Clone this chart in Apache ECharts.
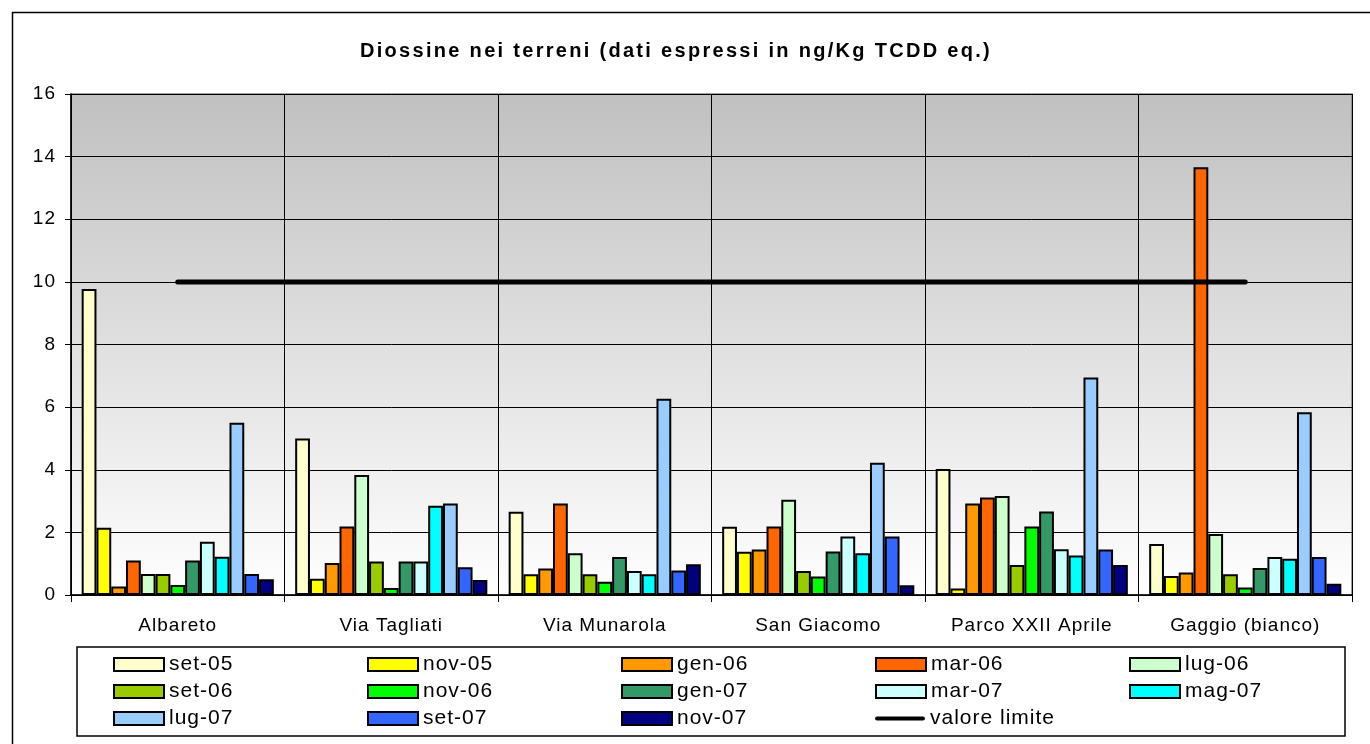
<!DOCTYPE html>
<html>
<head>
<meta charset="utf-8">
<script src="https://cdn.jsdelivr.net/npm/echarts@6/dist/echarts.min.js"></script>
<style>html,body{margin:0;padding:0;background:#fff;}#c{width:1370px;height:744px;}</style>
</head>
<body>
<div id="c"></div>
<script>
var categories = ['Albareto', 'Via Tagliati', 'Via Munarola', 'San Giacomo', 'Parco XXII Aprile', 'Gaggio (bianco)'];
var seriesNames = ['set-05','nov-05','gen-06','mar-06','lug-06','set-06','nov-06','gen-07','mar-07','mag-07','lug-07','set-07','nov-07'];
var set05 = [9.77, 5.0, 2.66, 2.18, 4.02, 1.63];
var nov05 = [2.15, 0.52, 0.66, 1.38, 0.21, 0.61];
var gen06 = [0.27, 1.02, 0.85, 1.45, 2.92, 0.72];
var mar06 = [1.10, 2.19, 2.92, 2.19, 3.11, 13.66];
var lug06 = [0.67, 3.83, 1.33, 3.04, 3.16, 1.95];
var set06 = [0.67, 1.07, 0.66, 0.77, 0.96, 0.66];
var nov06 = [0.32, 0.22, 0.42, 0.59, 2.19, 0.24];
var gen07 = [1.10, 1.07, 1.21, 1.39, 2.67, 0.86];
var mar07 = [1.70, 1.07, 0.77, 1.87, 1.46, 1.21];
var mag07 = [1.22, 2.85, 0.66, 1.33, 1.26, 1.16];
var lug07 = [5.50, 2.92, 6.27, 4.22, 6.95, 5.84];
var set07 = [0.67, 0.89, 0.78, 1.87, 1.45, 1.21];
var nov07 = [0.50, 0.48, 0.98, 0.31, 0.96, 0.36];
var valoreLimite = [10, 10, 10, 10, 10, 10];
var yTicks = [0, 2, 4, 6, 8, 10, 12, 14, 16];

var seriesValues = [set05, nov05, gen06, mar06, lug06, set06, nov06, gen07, mar07, mag07, lug07, set07, nov07];
var colors = ['#FFFFCC','#FFFF00','#FF9900','#FF6600','#CCFFCC','#99CC00','#00FF00','#339966','#CCFFFF','#00FFFF','#99CCFF','#3366FF','#000080'];

// widen glyph spacing like the original export
(function () {
  var proto = CanvasRenderingContext2D.prototype;
  var orig = proto.fillText;
  proto.fillText = function (t, x, y, m) {
    if ('letterSpacing' in this) {
      this.letterSpacing = /bold|700/.test(this.font) ? '2.3px' : '1px';
    }
    return m === undefined ? orig.call(this, t, x, y) : orig.call(this, t, x, y, m);
  };
})();

var font = 'Liberation Sans, Arial, sans-serif';
var series = seriesNames.map(function (n, i) {
  return {
    name: n, type: 'bar', data: seriesValues[i],
    barGap: '0%', barCategoryGap: '10%',
    itemStyle: { color: colors[i], borderColor: '#000', borderWidth: 2 },
    z: 2
  };
});
series.push({
  name: 'valore limite', type: 'line', data: valoreLimite,
  symbol: 'none', showSymbol: false,
  lineStyle: { color: '#000', width: 5, cap: 'round' },
  itemStyle: { color: '#000' },
  z: 5
});

var legendData = seriesNames.map(function (n, i) {
  return { name: n, icon: 'rect', itemStyle: { color: colors[i], borderColor: '#000', borderWidth: 2 } };
});
legendData.push({
  name: 'valore limite',
  icon: 'path://M2.5,0 L57.5,0 A2.5,2.5 0 0 1 57.5,5 L2.5,5 A2.5,2.5 0 0 1 2.5,0 Z',
  itemStyle: { color: '#000', borderWidth: 0 }
});

var chart = echarts.init(document.getElementById('c'));
chart.setOption({
  animation: false,
  backgroundColor: '#fff',
  title: {
    text: 'Diossine nei terreni (dati espressi in ng/Kg TCDD eq.)',
    left: 355, top: 36,
    textStyle: { fontFamily: font, fontSize: 20, fontWeight: 'bold', color: '#000' }
  },
  grid: {
    left: 71, right: 18, top: 94, bottom: 149,
    show: true, borderColor: '#808080', borderWidth: 1.5,
    backgroundColor: new echarts.graphic.LinearGradient(0, 0, 0, 1, [
      { offset: 0, color: '#c0c0c0' }, { offset: 1, color: '#ffffff' }
    ])
  },
  legend: {
    data: legendData,
    left: 113, top: 654, width: 1265, padding: 0,
    orient: 'horizontal',
    itemWidth: 50, itemHeight: 13, itemGap: 6,
    textStyle: { fontFamily: font, fontSize: 21, color: '#000', width: 192, lineHeight: 20 }
  },
  xAxis: {
    type: 'category', data: categories,
    axisLine: { lineStyle: { color: '#000', width: 1.5 } },
    axisTick: { show: true, length: 7, lineStyle: { color: '#000', width: 1 } },
    axisLabel: { fontFamily: font, fontSize: 19, color: '#000', margin: 21 },
    splitLine: { show: true, lineStyle: { color: '#000', width: 1 } }
  },
  yAxis: {
    type: 'value', min: 0, max: 16, interval: 2,
    axisLine: { show: true, lineStyle: { color: '#000', width: 1.5 } },
    axisTick: { show: true, length: 6, lineStyle: { color: '#000' } },
    axisLabel: { fontFamily: font, fontSize: 19, color: '#000', margin: 15,
      formatter: function (v) { return yTicks.indexOf(v) >= 0 ? String(v) : ''; } },
    splitLine: { show: true, lineStyle: { color: '#000', width: 1 } }
  },
  graphic: [
    { type: 'rect', left: 10, top: 10, shape: { x: 0, y: 0, width: 1370, height: 744 },
      style: { fill: 'none', stroke: '#000', lineWidth: 1.5 }, silent: true, z: 0 },
    { type: 'rect', shape: { x: 77, y: 647, width: 1268, height: 89 },
      style: { fill: 'none', stroke: '#000', lineWidth: 1.5 }, silent: true, z: 0 }
  ],
  series: series
});
</script>
</body>
</html>
